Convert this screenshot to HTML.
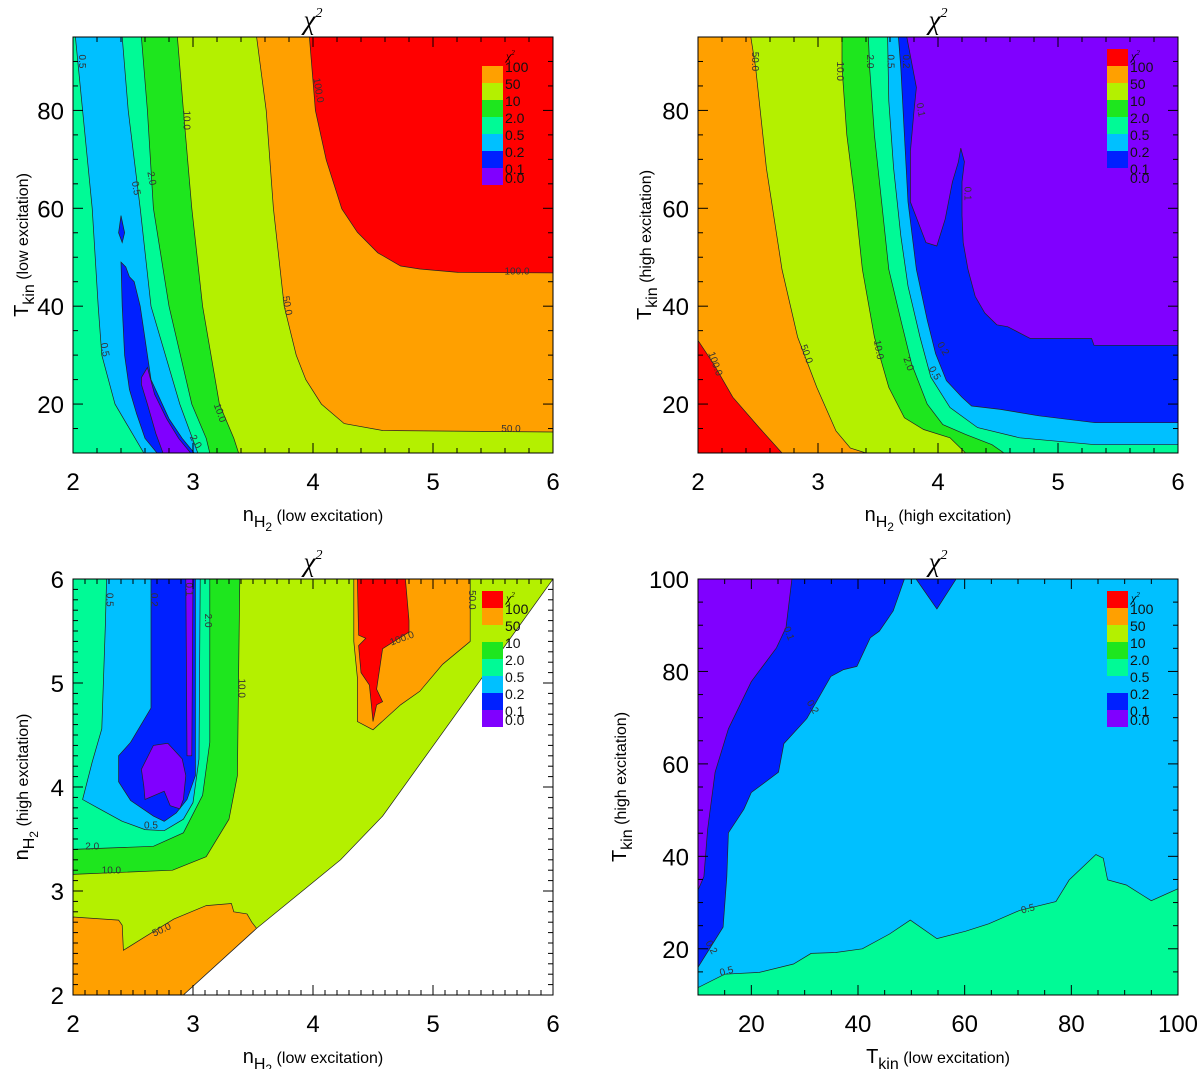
<!DOCTYPE html>
<html><head><meta charset="utf-8">
<style>
html,body{margin:0;padding:0;background:#fff;}
svg{display:block;font-family:"Liberation Sans",sans-serif;}
</style></head>
<body>
<svg id="fig" width="1200" height="1069" viewBox="0 0 1200 1069" xmlns="http://www.w3.org/2000/svg"></svg>
<script>
const levelLabels = ["100","50","10","2.0","0.5","0.2","0.1","0.0"];
const C = {red:"#ff0000",orange:"#ffa000",yg:"#b4f000",green:"#1ee61e",aqua:"#00fa96",lb:"#00c0ff",blue:"#0020ff",purple:"#8000ff"};

const tl_lightblue=[[2.02,95],[2.08,80],[2.16,60],[2.21,40],[2.24,30],[2.35,20],[2.59,10],[3.04,10],[2.89,20],[2.65,40],[2.56,60],[2.46,80],[2.41,95]];
const tl_blue1=[[2.40,58.5],[2.43,55],[2.41,53],[2.38,55]];
const tl_blue2=[[2.40,49],[2.44,48],[2.47,46],[2.51,45],[2.56,40],[2.59,35],[2.65,25],[2.80,17],[2.91,13],[3.01,10],[2.70,10],[2.60,13],[2.53,18],[2.47,23],[2.43,30],[2.41,40]];
const tl_purple=[[2.57,25.4],[2.62,27.5],[2.68,22],[2.78,17],[2.88,13],[2.98,10],[2.75,10],[2.69,14],[2.62,20],[2.57,24]];
const tl_green=[[2.57,95],[2.62,80],[2.67,60],[2.80,40],[2.99,20],[3.11,13],[3.14,10],[6,10],[6,95]];
const tl_yg=[[2.87,95],[2.92,80],[2.99,60],[3.08,40],[3.22,20],[3.34,13],[3.38,10],[6,10],[6,95]];
const tl_orange=[[3.53,95],[3.61,80],[3.67,60],[3.76,40],[3.86,30],[3.94,25],[4.07,20],[4.26,16],[4.58,14.6],[6,14.3],[6,95]];
const tl_red=[[3.97,95],[4.02,80],[4.11,69.9],[4.24,59.9],[4.37,55.1],[4.54,50.9],[4.73,48.2],[4.89,47.6],[5.21,46.9],[6,46.8],[6,95]];
const tl_labels=[[2.05,90,"0.5",90],[2.92,78,"10.0",90],[2.50,64,"0.5",80],[2.63,66,"2.0",80],[2.24,31,"0.5",80],[3.2,18,"10.0",70],[3.76,40,"50.0",80],[4.02,84,"100.0",80],[5.7,46.5,"100.0",0],[5.65,14.3,"50.0",0],[3.0,12,"2.0",60]];

const tr_blue=[[2,95],[3.74,95],[3.82,84.7],[3.80,79.9],[3.77,71.6],[3.77,61.3],[3.90,53.0],[3.99,52.3],[4.06,57.8],[4.12,65.4],[4.17,69.5],[4.19,72.3],[4.22,69.5],[4.20,65.4],[4.20,58.5],[4.21,53.0],[4.25,47.5],[4.31,42.0],[4.39,38.6],[4.49,36.2],[4.58,35.8],[4.77,33.4],[5.28,33.4],[5.30,32.0],[6,32.0],[6,10],[2,10]];
const tr_lightblue=[[2,95],[3.67,95],[3.69,88.8],[3.72,75],[3.75,61.3],[3.82,47.5],[3.91,37.2],[3.98,30.3],[4.07,24.8],[4.20,21.4],[4.28,19.6],[4.52,18.9],[4.84,17.6],[5.31,16.2],[6,16.2],[6,10],[2,10]];
const tr_aqua=[[2,95],[3.58,95],[3.59,81.9],[3.63,68.2],[3.69,54.4],[3.75,44.1],[3.85,33.7],[3.94,25.5],[4.10,19.3],[4.33,15.2],[4.68,13.1],[5.31,11.7],[6,11.7],[6,10],[2,10]];
const tr_green=[[2,95],[3.42,95],[3.43,88.8],[3.47,75],[3.53,61.3],[3.59,47.5],[3.69,37.2],[3.78,28.2],[3.91,20],[4.04,15.8],[4.23,13.8],[4.45,11.7],[4.55,10],[2,10]];
const tr_yg=[[2,95],[3.20,95],[3.20,88.8],[3.24,75],[3.31,61.3],[3.37,47.5],[3.47,33.7],[3.59,23.4],[3.72,17.2],[3.88,14.8],[4.10,13.1],[4.23,10],[2,10]];
const tr_orange=[[2,95],[2.44,95],[2.48,88.8],[2.57,68.2],[2.70,47.5],[2.83,33.7],[2.99,23.4],[3.15,14.5],[3.27,11],[3.40,10],[2,10]];
const tr_red=[[2,33],[2.13,28.2],[2.29,21.4],[2.51,15.2],[2.70,10],[2,10]];
const tr_labels=[[2.45,90,"50.0",90],[3.16,88,"10.0",90],[3.41,90,"2.0",90],[3.58,90,"0.5",90],[3.71,90,"0.2",90],[3.83,80,"0.1",80],[4.22,63,"0.1",90],[2.12,28,"100.0",70],[2.88,30,"50.0",70],[3.48,31,"10.0",80],[3.73,28,"2.0",70],[3.95,26,"0.5",60],[4.02,31,"0.2",60]];

const bl_orange_low=[[2,2.75],[2.38,2.72],[2.41,2.67],[2.42,2.43],[2.60,2.56],[2.84,2.73],[3.11,2.86],[3.32,2.88],[3.34,2.80],[3.45,2.78],[3.49,2.70],[3.53,2.64],[2.92,2],[2,2]];
const bl_orange_top=[[4.34,6],[4.34,5.40],[4.37,5.05],[4.37,4.63],[4.50,4.55],[4.73,4.79],[4.89,4.92],[5.08,5.18],[5.31,5.40],[5.31,6]];
const bl_red=[[4.37,6],[4.38,5.46],[4.44,5.43],[4.38,5.36],[4.40,5.10],[4.47,4.98],[4.50,4.63],[4.53,4.79],[4.58,4.82],[4.53,4.94],[4.58,5.33],[4.80,5.49],[4.80,5.60],[4.77,6]];
const bl_green=[[2,6],[3.39,6],[3.38,5.08],[3.37,4.11],[3.30,3.69],[3.11,3.33],[2.83,3.20],[2,3.16]];
const bl_aqua=[[2,6],[3.14,6],[3.14,4.43],[3.08,3.92],[2.92,3.56],[2.67,3.43],[2,3.40]];
const bl_lightblue=[[2.28,6],[2.27,5.57],[2.24,4.56],[2.16,4.24],[2.08,3.88],[2.22,3.79],[2.41,3.67],[2.60,3.59],[2.76,3.58],[2.92,3.69],[3.0,3.85],[3.05,4.27],[3.06,6]];
const bl_blue=[[2.65,6],[2.65,4.76],[2.48,4.43],[2.38,4.30],[2.38,4.05],[2.48,3.87],[2.67,3.72],[2.76,3.67],[2.86,3.75],[2.95,3.88],[3.02,4.11],[3.02,6]];
const bl_purple_strip=[[2.94,6],[2.95,4.3],[2.99,4.3],[3.0,6]];
const bl_purple_blob=[[2.57,4.17],[2.67,4.40],[2.79,4.42],[2.91,4.27],[2.94,4.11],[2.92,3.88],[2.89,3.79],[2.81,3.82],[2.76,3.96],[2.60,3.88],[2.59,4.01]];
const bl_white=[[2.92,2],[3.53,2.64],[4.23,3.30],[4.58,3.72],[6,6],[6,2]];
const bl_labels=[[2.28,5.8,"0.5",90],[2.65,5.8,"0.2",90],[2.94,5.9,"0.1",90],[3.1,5.6,"2.0",90],[3.38,4.95,"10.0",90],[2.65,3.6,"0.5",0],[2.16,3.4,"2.0",0],[2.32,3.17,"10.0",0],[2.75,2.6,"50.0",-25],[4.75,5.4,"100.0",-20],[5.3,5.8,"50.0",90]];

const br_blue=[[10,100],[48.7,100],[46.6,93.1],[44.0,88.7],[42.3,87.3],[39.8,81.1],[37.3,80.4],[34.9,78.9],[30.4,69.8],[26.1,64.4],[25.1,58.2],[20.0,53.8],[18.6,50.2],[15.7,45.1],[15.4,35.6],[14.7,24.7],[10,16]];
const br_blue_notch=[[50.9,100],[54.8,93.5],[58.4,100]];
const br_purple=[[10,100],[27.6,100],[26.5,89.5],[24.7,85.1],[20.0,77.8],[15.7,67.6],[13.2,58.2],[11.8,45.8],[11.1,35.6],[10,32.7]];
const br_aqua=[[10,11.6],[15,14.5],[21.5,14.9],[27.9,16.7],[31.2,19],[35.8,19.2],[40.8,20],[45.9,23.2],[49.8,26.2],[54.8,22.2],[60.2,23.8],[64.5,25.4],[70.3,28.3],[77.1,30.2],[79.6,34.9],[84.6,40.4],[86,39.6],[86.8,34.9],[90.3,33.8],[95,30.4],[100,33],[100,10],[10,10]];
const br_labels=[[26.5,88,"0.1",70],[31,72,"0.2",60],[12,20,"0.2",60],[15.5,14.5,"0.5",-15],[72,28,"0.5",-15]];

const ticksX_n=[2,3,4,5,6];
const ticksY_T=[20,40,60,80];
const ticksY_n=[2,3,4,5,6];
const ticksT=[20,40,60,80,100];

const NS="http://www.w3.org/2000/svg";
const fig=document.getElementById('fig');
function mk(tag,attrs,parent){const e=document.createElementNS(NS,tag);for(const k in attrs)e.setAttribute(k,attrs[k]);(parent||fig).appendChild(e);return e;}

const panels=[
 {id:"top-left",x0:73,y0:37,w:480,h:416,xd:[2,6],yd:[10,95],base:C.aqua,
  layers:[[tl_lightblue,C.lb],[tl_blue1,C.blue],[tl_blue2,C.blue],[tl_purple,C.purple],[tl_green,C.green],[tl_yg,C.yg],[tl_orange,C.orange],[tl_red,C.red]],
  xt:ticksX_n,yt:ticksY_T,xm:0.2,ym:5,labels:tl_labels,xlab:["n","H2","(low excitation)"],ylab:["T","kin","(low excitation)"],ylx:28},
 {id:"top-right",x0:698,y0:37,w:480,h:416,xd:[2,6],yd:[10,95],base:C.purple,
  layers:[[tr_blue,C.blue],[tr_lightblue,C.lb],[tr_aqua,C.aqua],[tr_green,C.green],[tr_yg,C.yg],[tr_orange,C.orange],[tr_red,C.red]],
  xt:ticksX_n,yt:ticksY_T,xm:0.2,ym:5,labels:tr_labels,xlab:["n","H2","(high excitation)"],ylab:["T","kin","(high excitation)"],ylx:651},
 {id:"bottom-left",x0:73,y0:579,w:480,h:416,xd:[2,6],yd:[2,6],base:C.yg,
  layers:[[bl_orange_low,C.orange],[bl_orange_top,C.orange],[bl_red,C.red],[bl_green,C.green],[bl_aqua,C.aqua],[bl_lightblue,C.lb],[bl_blue,C.blue],[bl_purple_strip,C.purple],[bl_purple_blob,C.purple],[bl_white,"#ffffff"]],
  xt:ticksX_n,yt:ticksY_n,xm:0.1,ym:0.1,labels:bl_labels,xlab:["n","H2","(low excitation)"],ylab:["n","H2","(high excitation)"],ylx:28},
 {id:"bottom-right",x0:698,y0:579,w:480,h:416,xd:[10,100],yd:[10,100],base:C.lb,
  layers:[[br_blue,C.blue],[br_blue_notch,C.blue],[br_purple,C.purple],[br_aqua,C.aqua]],
  xt:ticksT,yt:ticksT,xm:5,ym:5,labels:br_labels,xlab:["T","kin","(low excitation)"],ylab:["T","kin","(high excitation)"],ylx:626}
];

panels.forEach(p=>{
  const sx=v=>p.x0+(v-p.xd[0])/(p.xd[1]-p.xd[0])*p.w;
  const sy=v=>p.y0+p.h-(v-p.yd[0])/(p.yd[1]-p.yd[0])*p.h;
  const g=mk('g',{});
  
  
  const cid='clip-'+p.id;
  const defs=mk('defs',{},g);const cp=mk('clipPath',{id:cid},defs);mk('rect',{x:p.x0,y:p.y0,width:p.w,height:p.h},cp);
  const plot=mk('g',{'clip-path':'url(#'+cid+')'},g);
  
  
  const bg=mk('rect',{x:p.x0,y:p.y0,width:p.w,height:p.h,fill:p.base},plot);
  
  
  p.layers.forEach(([pts,col])=>{
    const poly=mk('polygon',{points:pts.map(q=>sx(q[0]).toFixed(1)+','+sy(q[1]).toFixed(1)).join(' '),fill:col,stroke:'#222','stroke-width':0.7},plot);
    
    
  });
  p.labels.forEach(([x,y,t,a])=>{
    const tx=mk('text',{x:sx(x),y:sy(y),'font-size':10,fill:'#333','text-anchor':'middle',transform:`rotate(${a} ${sx(x)} ${sy(y)})`},plot);
    tx.textContent=t;
    
    
  });
  const fr=mk('rect',{x:p.x0,y:p.y0,width:p.w,height:p.h,fill:'none',stroke:'#000','stroke-width':1},g);
  
  
  const tk=mk('g',{stroke:'#000','stroke-width':1},g);
  
  
  for(let v=p.xd[0];v<=p.xd[1]+1e-9;v+=p.xm){
    const maj=p.xt.some(t=>Math.abs(t-v)<1e-6);const L=maj?10:5;const X=sx(v);
    mk('line',{x1:X,x2:X,y1:p.y0+p.h,y2:p.y0+p.h-L},tk);mk('line',{x1:X,x2:X,y1:p.y0,y2:p.y0+L},tk);
  }
  for(let v=p.yd[0];v<=p.yd[1]+1e-9;v+=p.ym){
    const maj=p.yt.some(t=>Math.abs(t-v)<1e-6);const L=maj?10:5;const Y=sy(v);
    mk('line',{x1:p.x0,x2:p.x0+L,y1:Y,y2:Y},tk);mk('line',{x1:p.x0+p.w,x2:p.x0+p.w-L,y1:Y,y2:Y},tk);
  }
  p.xt.forEach(t=>{const e=mk('text',{x:sx(t),y:p.y0+p.h+37,'font-size':24,'text-anchor':'middle',fill:'#000'},g);e.textContent=String(t);
    });
  p.yt.forEach(t=>{const e=mk('text',{x:p.x0-9,y:sy(t)+9,'font-size':24,'text-anchor':'end',fill:'#000'},g);e.textContent=String(t);
    });
  const ti=mk('text',{x:p.x0+p.w/2,y:p.y0-8,'font-size':27,'text-anchor':'middle','font-family':'Liberation Serif, serif','font-style':'italic'},g);
  ti.innerHTML='χ<tspan font-size="14" dy="-12">2</tspan>';
  
  const xl=mk('text',{x:p.x0+p.w/2,y:p.y0+p.h+68,'font-size':20,'text-anchor':'middle'},g);
  xl.innerHTML=`${p.xlab[0]}<tspan font-size="16" dy="6">${p.xlab[1]==="H2"?'H<tspan font-size="12" dy="4">2</tspan>':p.xlab[1]}</tspan><tspan font-size="16" dy="${p.xlab[1]==="H2"?-10:-6}"> ${p.xlab[2]}</tspan>`;
  
  const yc=p.y0+p.h/2;
  const yl=mk('text',{x:p.ylx,y:yc,'font-size':20,'text-anchor':'middle',transform:`rotate(-90 ${p.ylx} ${yc})`},g);
  yl.innerHTML=`${p.ylab[0]}<tspan font-size="16" dy="6">${p.ylab[1]==="H2"?'H<tspan font-size="12" dy="4">2</tspan>':p.ylab[1]}</tspan><tspan font-size="16" dy="${p.ylab[1]==="H2"?-10:-6}"> ${p.ylab[2]}</tspan>`;
  
  const lg=mk('g',{},g);
  
  const lx=p.x0+409,ly=p.y0+12,bh=17;
  const lcols=[C.red,C.orange,C.yg,C.green,C.aqua,C.lb,C.blue,C.purple];
  lcols.forEach((c,i)=>{const r=mk('rect',{x:lx,y:ly+i*bh,width:21,height:bh,fill:c},lg);
    });
  const lt=mk('text',{x:lx+24,y:ly+11,'font-size':12,'font-family':'Liberation Serif, serif','font-style':'italic'},lg);
  lt.innerHTML='χ<tspan font-size="7" dy="-5">2</tspan>';
  
  levelLabels.forEach((t,i)=>{const y=i<7?ly+(i+1)*bh+6:ly+8*bh-2;
    const e=mk('text',{x:lx+23,y:y,'font-size':14,fill:'#111'},lg);e.textContent=t;
    });
});
</script>
</body></html>
